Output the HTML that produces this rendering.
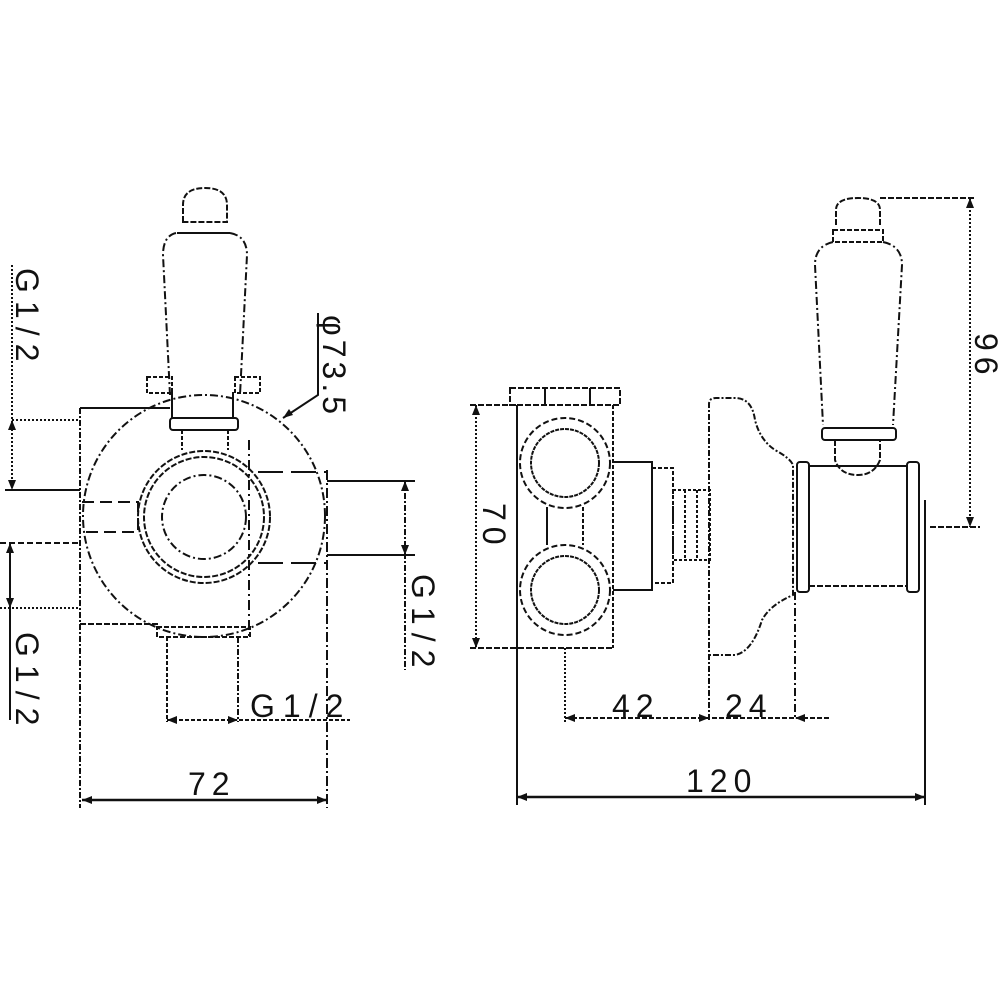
<!DOCTYPE html>
<html><head><meta charset="utf-8"><style>
html,body{margin:0;padding:0;background:#fff;}
svg{display:block;}
text{font-family:"Liberation Sans",sans-serif;font-size:32px;fill:#111;}
</style></head><body>
<svg width="1000" height="1000" viewBox="0 0 1000 1000" xmlns="http://www.w3.org/2000/svg">
<g fill="none" stroke="#111" stroke-width="2">
<path d="M183,222 L183,205 Q183,188 205,188 Q227,188 227,205 L227,222 Z" stroke-dasharray="6 2"/>
<line x1="177" y1="233" x2="230" y2="233"/>
<path d="M176,233 Q163,236 163,255 L170,395 M230,233 Q247,236 247,255 L240,395" stroke-dasharray="8 3 2 3"/>
<rect x="147" y="377" width="25" height="16" stroke-dasharray="4 2"/>
<rect x="235" y="377" width="25" height="16" stroke-dasharray="4 2"/>
<line x1="172" y1="392" x2="172" y2="418"/>
<line x1="233" y1="392" x2="233" y2="418"/>
<rect x="170" y="418" width="68" height="12" rx="3"/>
<line x1="182" y1="430" x2="182" y2="450" stroke-dasharray="4 2"/>
<line x1="228" y1="430" x2="228" y2="450" stroke-dasharray="4 2"/>
<circle cx="204" cy="516" r="121" stroke-dasharray="8 3 2 3"/>
<circle cx="204" cy="517" r="66" stroke-dasharray="6 2"/>
<circle cx="204" cy="517" r="60" stroke-dasharray="6 2"/>
<circle cx="204" cy="517" r="42" stroke-dasharray="8 3 2 3"/>
<path d="M82,502 L138,502 L138,532 L82,532" stroke-dasharray="12 6"/>
<path d="M258,472 L327,472 M258,563 L327,563" stroke-dasharray="25 8"/>
<line x1="249" y1="440" x2="249" y2="640" stroke-dasharray="10 4 2 4"/>
<path d="M157,627 L250,627 L250,637 L157,637 Z" stroke-dasharray="5 2"/>
<line x1="80" y1="408" x2="170" y2="408"/>
<line x1="80" y1="408" x2="80" y2="808" stroke-dasharray="6 2 2 2"/>
<line x1="327" y1="470" x2="327" y2="808" stroke-dasharray="10 3 2 3"/>
<line x1="80" y1="624" x2="160" y2="624" stroke-dasharray="6 2"/>
<line x1="5" y1="490" x2="80" y2="490"/>
<line x1="12" y1="265" x2="12" y2="490" stroke-dasharray="2 2"/>
<line x1="12" y1="420" x2="80" y2="420" stroke-dasharray="2 2"/>
<line x1="0" y1="543" x2="80" y2="543" stroke-dasharray="6 3"/>
<line x1="10" y1="543" x2="10" y2="720"/>
<line x1="0" y1="608" x2="80" y2="608" stroke-dasharray="2 2"/>
<line x1="327" y1="481" x2="415" y2="481"/>
<line x1="327" y1="555" x2="415" y2="555"/>
<line x1="405" y1="481" x2="405" y2="670" stroke-dasharray="6 2 2 2"/>
<line x1="167" y1="637" x2="167" y2="722" stroke-dasharray="4 2"/>
<line x1="238" y1="637" x2="238" y2="722" stroke-dasharray="6 2 2 2"/>
<line x1="167" y1="720" x2="350" y2="720" stroke-dasharray="4 2"/>
<line x1="82" y1="800" x2="327" y2="800" stroke-width="2.5"/>
<path d="M318,313 L318,395 L283,418"/>
<rect x="510" y="388" width="110" height="17" stroke-dasharray="6 2"/>
<line x1="545" y1="388" x2="545" y2="405"/><line x1="590" y1="388" x2="590" y2="405"/>
<line x1="470" y1="405" x2="517" y2="405" stroke-dasharray="6 2"/>
<line x1="470" y1="648" x2="613" y2="648" stroke-dasharray="6 2"/>
<line x1="517" y1="405" x2="517" y2="805"/>
<line x1="613" y1="405" x2="613" y2="648" stroke-dasharray="4 2"/>
<line x1="476" y1="405" x2="476" y2="648" stroke-dasharray="2 2"/>
<circle cx="565" cy="463" r="45" stroke-dasharray="6 3"/>
<circle cx="565" cy="463" r="34" stroke-dasharray="4 1"/>
<circle cx="565" cy="590" r="45" stroke-dasharray="6 3"/>
<circle cx="565" cy="590" r="34" stroke-dasharray="4 1"/>
<line x1="547" y1="507" x2="547" y2="545"/>
<line x1="583" y1="507" x2="583" y2="545" stroke-dasharray="4 2"/>
<path d="M613,462 L652,462 L652,590 L613,590"/>
<rect x="652" y="468" width="21" height="115" stroke-dasharray="4 2"/>
<rect x="673" y="490" width="37" height="70" stroke-dasharray="3 2"/>
<line x1="685" y1="490" x2="685" y2="560" stroke-dasharray="3 2"/>
<line x1="697" y1="490" x2="697" y2="560" stroke-dasharray="3 2"/>
<path d="M709,720 L709,404 Q709,398 716,398 L735,398 Q752,398 755,420 Q760,440 775,450 Q790,458 793,465 L793,595 Q770,605 762,620 Q752,652 735,655 L709,655" stroke-dasharray="6 2 2 2"/>
<line x1="795" y1="592" x2="795" y2="720" stroke-dasharray="8 3 2 3"/>
<rect x="797" y="462" width="12" height="130" rx="3"/>
<rect x="907" y="462" width="12" height="130" rx="3"/>
<line x1="809" y1="466" x2="907" y2="466"/>
<line x1="809" y1="586" x2="907" y2="586" stroke-dasharray="6 2"/>
<line x1="925" y1="500" x2="925" y2="805"/>
<path d="M836,225 L836,210 Q836,198 858,198 Q880,198 880,210 L880,225" stroke-dasharray="6 2"/>
<rect x="833" y="230" width="50" height="12" stroke-dasharray="5 2"/>
<path d="M833,242 Q815,246 815,265 L823,425 M883,242 Q902,246 902,265 L893,425" stroke-dasharray="8 3 2 3"/>
<rect x="822" y="428" width="74" height="12" rx="3"/>
<path d="M835,440 L835,460 Q840,475 858,475 Q874,475 880,460 L880,440" stroke-dasharray="6 2"/>
<line x1="880" y1="198" x2="975" y2="198" stroke-dasharray="6 2"/>
<line x1="930" y1="527" x2="980" y2="527" stroke-dasharray="6 2"/>
<line x1="970" y1="198" x2="970" y2="527" stroke-dasharray="2 2"/>
<line x1="565" y1="648" x2="565" y2="722" stroke-dasharray="2 2"/>
<line x1="565" y1="718" x2="830" y2="718" stroke-dasharray="5 2"/>
<line x1="517" y1="797" x2="925" y2="797" stroke-width="2.5"/>
</g>
<g fill="#111">
<path d="M12,420 l-4,10 h8z M12,490 l-4,-10 h8z M10,543 l-4,10 h8z M10,608 l-4,-10 h8z"/>
<path d="M405,481 l-4,10 h8z M405,555 l-4,-10 h8z"/>
<path d="M167,720 l10,-4 v8z M238,720 l-10,-4 v8z M82,800 l10,-4 v8z M327,800 l-10,-4 v8z"/>
<path d="M283,418 l6,-9 l4,6z"/>
<path d="M476,405 l-4,10 h8z M476,648 l-4,-10 h8z M970,198 l-4,10 h8z M970,527 l-4,-10 h8z"/>
<path d="M565,718 l10,-4 v8z M709,718 l-10,-4 v8z M795,718 l10,-4 v8z M517,797 l10,-4 v8z M925,797 l-10,-4 v8z"/>
</g>
<g>
<text transform="translate(16,268) rotate(90)" letter-spacing="8">G1/2</text>
<text transform="translate(16,632) rotate(90)" letter-spacing="8">G1/2</text>
<text transform="translate(412,574) rotate(90)" letter-spacing="8">G1/2</text>
<text transform="translate(323,315) rotate(90)" letter-spacing="4">φ73.5</text>
<text transform="translate(250,717)" letter-spacing="8">G1/2</text>
<text transform="translate(188,795)" letter-spacing="6">72</text>
<text transform="translate(483,503) rotate(90)" letter-spacing="6">70</text>
<text transform="translate(975,333) rotate(90)" letter-spacing="6">96</text>
<text transform="translate(612,717)" letter-spacing="6">42</text>
<text transform="translate(725,717)" letter-spacing="6">24</text>
<text transform="translate(686,792)" letter-spacing="6">120</text>
</g>
</svg>
</body></html>
